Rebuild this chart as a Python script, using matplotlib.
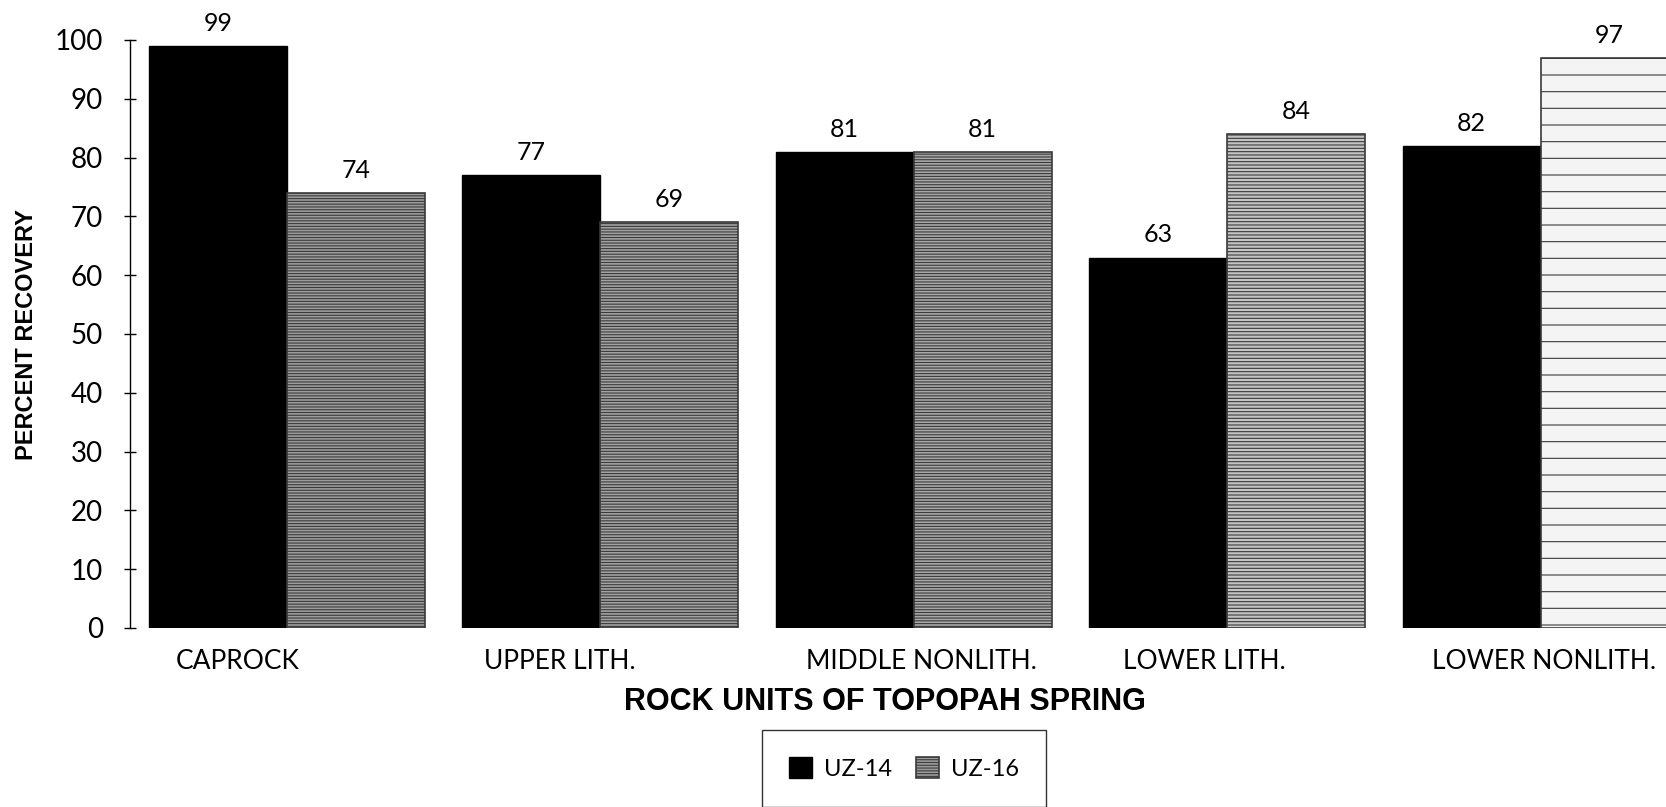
import matplotlib
matplotlib.use("Agg")
import matplotlib.pyplot as plt
import numpy as np

# ---- data ----
categories = ["CAPROCK", "UPPER LITH.", "MIDDLE NONLITH.", "LOWER LITH.", "LOWER NONLITH."]
uz14 = [99, 77, 81, 63, 82]
uz16 = [74, 69, 81, 84, 97]
series_names = ["UZ-14", "UZ-16"]
yticks = [0, 10, 20, 30, 40, 50, 60, 70, 80, 90, 100]

# ---- style ----
label_font = "Lato"
title_font = "Liberation Sans"
uz16_faces = ["#9c9c9c", "#a2a2a2", "#a8a8a8", "#c4c4c4", "#f4f4f4"]
uz16_edges = ["#3a3a3a", "#3a3a3a", "#3a3a3a", "#3a3a3a", "#8a8a8a"]
uz16_hatch = ["------", "------", "------", "-----", "-"]
cat_label_shift = [-0.157, -0.128, 0.026, -0.073, 0.010]

plt.rcParams["hatch.linewidth"] = 0.8

fig = plt.figure(figsize=(16.66, 8.07), dpi=100)
ax = fig.add_axes([130 / 1666, 179 / 807, 1 - 130 / 1666, 588 / 807])

x = np.arange(len(categories))
w = 0.44
b1 = ax.bar(x - w / 2, uz14, width=w, color="black", edgecolor="black", linewidth=1, label=series_names[0])
b2 = ax.bar(x + w / 2, uz16, width=w, color=uz16_faces, edgecolor=uz16_edges, linewidth=1.2,
            hatch=uz16_hatch, label=series_names[1])
b2[-1].set_edgecolor("#3a3a3a")

for rects, vals in ((b1, uz14), (b2, uz16)):
    for r, v in zip(rects, vals):
        ax.annotate(f"{v}", (r.get_x() + r.get_width() / 2, v), xytext=(0, 8),
                    textcoords="offset points", ha="center", va="bottom",
                    fontsize=18, family=label_font, annotation_clip=False)

ax.set_xlim(-0.5, 4.40)
ax.set_ylim(0, 100)
ax.set_yticks(yticks)
ax.set_yticklabels([str(t) for t in yticks], fontsize=20, family=label_font)
ax.tick_params(axis="y", direction="inout", length=9, width=1, pad=15)

ax.set_xticks(x + np.array(cat_label_shift))
ax.set_xticklabels(categories, fontsize=19, family=label_font)
ax.tick_params(axis="x", length=0, pad=15)

for s in ("top", "right", "bottom"):
    ax.spines[s].set_visible(False)
ax.spines["left"].set_bounds(0, 100)
ax.spines["left"].set_linewidth(1)

ax.set_ylabel("PERCENT RECOVERY", fontsize=17, fontweight="bold", family=title_font)
ax.yaxis.set_label_coords(-0.0600, 0.5)
ax.set_xlabel("ROCK UNITS OF TOPOPAH SPRING", fontsize=22, fontweight="bold", family=title_font)
ax.xaxis.set_label_coords(0.4915, -0.100)

leg = fig.legend(handles=[b1, b2], labels=series_names, ncol=2, loc="upper center",
                 bbox_to_anchor=(904 / 1666, 77 / 807), frameon=True, fancybox=False,
                 edgecolor="black", prop={"family": label_font, "size": 17},
                 handlelength=1.0, handleheight=1.0, handletextpad=0.5, columnspacing=1.0,
                 borderpad=1.15, borderaxespad=0)
leg.get_frame().set_linewidth(1)

fig.savefig("out.png", dpi=100)
